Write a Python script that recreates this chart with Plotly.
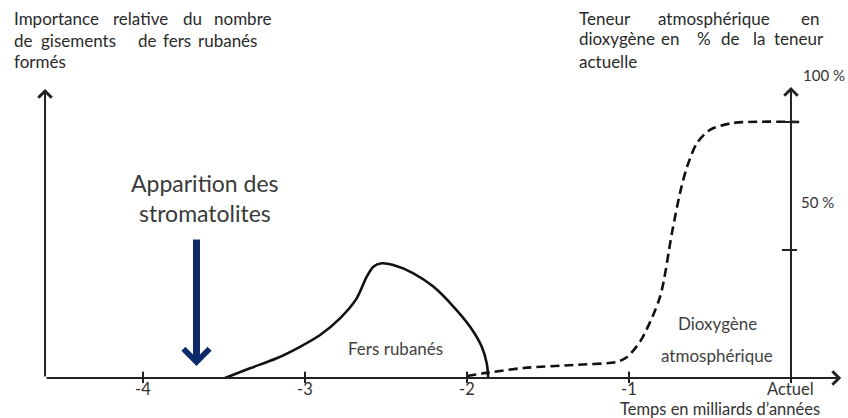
import plotly.graph_objects as go

# ---------------- data ----------------
# Banded iron formations (relative importance, arbitrary units on same scale)
fers_time = [-3.494, -3.340, -3.175, -3.031, -2.907, -2.784, -2.681, -2.619, -2.578,
             -2.527, -2.455, -2.331, -2.208, -2.084, -1.981, -1.909, -1.878, -1.869]
fers_importance = [0, 3.8, 7.7, 12.2, 16.8, 23.3, 31.1, 39.6, 43.5,
                   44.8, 44.1, 40.9, 35.7, 27.9, 20.0, 12.2, 5.7, 0]

# Atmospheric dioxygen (% of present level)
o2_time = [-2.0, -1.88, -1.65, -1.34, -1.074, -1.012, -0.926, -0.809, -0.735,
           -0.685, -0.642, -0.580, -0.500, -0.358, 0.056]
o2_percent = [0.8, 2.0, 3.9, 5.1, 6.3, 8.2, 14.8, 31.6, 56.6,
              72.3, 82.4, 91.8, 96.9, 99.6, 100]

x_tick_values = [-4, -3, -2, -1, 0]
x_tick_labels = ["-4", "-3", "-2", "-1", "Actuel"]
y_tick_values = [50, 100]
stromatolites_age = -3.67

# ---------------- geometry helpers ----------------
W, H = 848, 418
X_RANGE = [-4.883, 0.352]
Y_RANGE = [-15.625, 147.656]
X_LEFT = -4.605


def px(x):
    return x / W


def py(y):
    return 1 - y / H


FONT = "Lato"
TXT = "#333333"

fig = go.Figure()

fig.add_trace(go.Scatter(
    x=fers_time, y=fers_importance, mode="lines",
    line=dict(color="#111111", width=2.6, shape="spline", smoothing=0.8),
    hoverinfo="skip", showlegend=False))

fig.add_trace(go.Scatter(
    x=o2_time, y=o2_percent, mode="lines",
    line=dict(color="#111111", width=2.6, shape="spline", smoothing=0.8, dash="9px,5px"),
    hoverinfo="skip", showlegend=False))

ann = []
shapes = []


def arrow(x0, y0, x1, y1, color="#222222", width=2, head=4, size=1.3):
    ann.append(dict(x=x1, y=y1, ax=x0, ay=y0, xref="x", yref="y", axref="x", ayref="y",
                    text="", showarrow=True, arrowhead=head, arrowsize=size,
                    arrowwidth=width, arrowcolor=color))


# axes
arrow(X_LEFT, 0, 0.31, 0)
arrow(X_LEFT, 0, X_LEFT, 112.9)
arrow(0, 0, 0, 113.7)

for v in x_tick_values:
    shapes.append(dict(type="line", xref="x", yref="y", x0=v, x1=v, y0=-2.0, y1=2.5,
                       line=dict(color="#222222", width=2)))
for v in y_tick_values:
    shapes.append(dict(type="line", xref="x", yref="y", x0=-0.056, x1=0.037, y0=v, y1=v,
                       line=dict(color="#222222", width=2)))

for v, lab in zip(x_tick_values, x_tick_labels):
    ann.append(dict(x=v, y=py(389), xref="x", yref="paper", text=lab, showarrow=False,
                    xanchor="center", yanchor="middle", borderpad=0,
                    font=dict(family=FONT, size=16.5, color=TXT)))

# stromatolites arrow
arrow(stromatolites_age, 54.7, stromatolites_age, 4.7, color="#0d2a6b", width=7, head=4, size=0.72)


def text(t, x, y, size=18, anchor="left", color=TXT):
    ann.append(dict(x=px(x), y=py(y), xref="paper", yref="paper", text=t, showarrow=False,
                    xanchor=anchor, yanchor="middle", borderpad=0,
                    font=dict(family=FONT, size=size, color=color)))


# left heading (justified, word by word)
left_heading = [
    (19, [("Importance", 13), ("relative", 112), ("du", 182), ("nombre", 213)]),
    (40, [("de", 13), ("gisements", 40), ("de", 137), ("fers", 162), ("rubanés", 197)]),
    (61, [("formés", 13)]),
]
right_heading = [
    (19, [("Teneur", 578), ("atmosphérique", 657), ("en", 800)]),
    (39, [("dioxygène", 578), ("en", 660), ("%", 696), ("de", 720), ("la", 752), ("teneur", 773)]),
    (61, [("actuelle", 578)]),
]
for yy, words in left_heading + right_heading:
    for w, xx in words:
        text(w, xx, yy, size=17, color="#2a2a2a")

text("100 %", 846, 75, size=15, anchor="right")
text("50 %", 800, 202, size=15)

text("Apparition des", 205, 183, size=23, anchor="center", color="#3a3a3a")
text("stromatolites", 205, 213, size=23, anchor="center", color="#3a3a3a")

text("Fers rubanés", 395, 348, size=17, anchor="center", color="#3f3f3f")
text("Dioxygène", 717, 323, size=17, anchor="center", color="#3f3f3f")
text("atmosphérique", 717, 355, size=17, anchor="center", color="#3f3f3f")
text("Temps en milliards d’années", 720, 409, size=16.5, anchor="center")

fig.update_layout(
    width=W, height=H,
    margin=dict(l=0, r=0, t=0, b=0),
    paper_bgcolor="white", plot_bgcolor="white",
    xaxis=dict(range=X_RANGE, visible=False, fixedrange=True),
    yaxis=dict(range=Y_RANGE, visible=False, fixedrange=True),
    annotations=ann, shapes=shapes,
    showlegend=False,
)

fig.write_html("out.html", config={"displayModeBar": False},
               post_script="document.body.style.margin='0';")
